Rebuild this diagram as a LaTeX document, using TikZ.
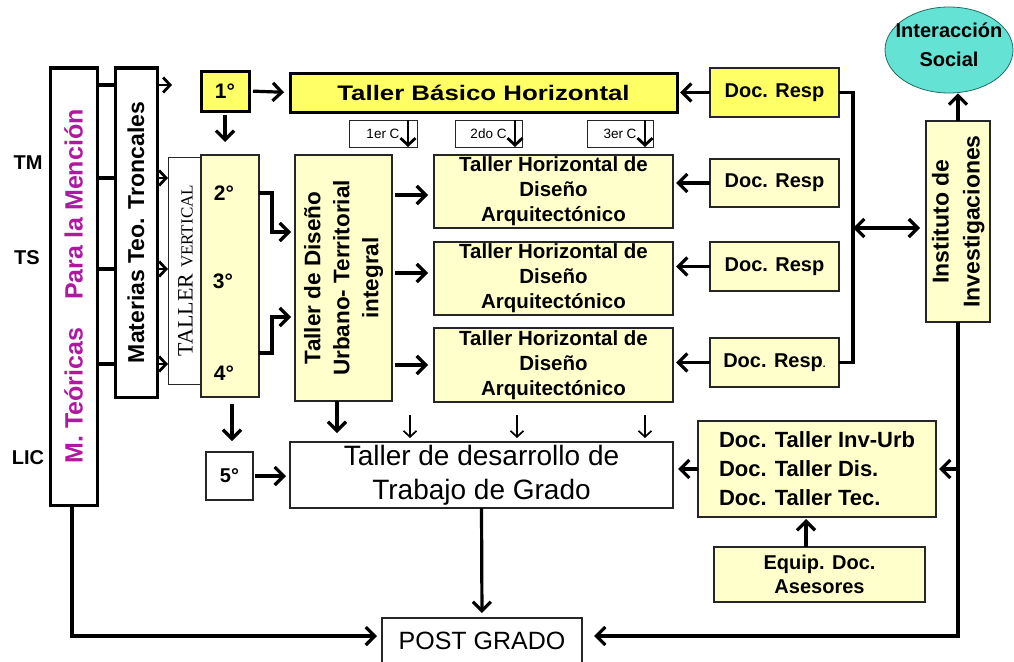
\documentclass[tikz,border=0pt]{standalone}
\usepackage{fontspec}
\setmainfont{Liberation Sans}
\newfontfamily\seriff{Liberation Serif}
\newfontfamily\widesans[FakeStretch=1.23]{Liberation Sans}
\usetikzlibrary{arrows.meta,shapes.geometric,calc}
\definecolor{ystrong}{RGB}{255,255,102}
\definecolor{ylight}{RGB}{255,255,204}
\definecolor{turq}{RGB}{100,226,212}
\definecolor{turqd}{RGB}{30,110,100}
\definecolor{magen}{RGB}{176,24,160}
\newcommand{\fsz}[2]{\fontsize{#1}{#2}\selectfont}
\tikzset{
  bx/.style 2 args={rectangle, draw=black!85, line width=1.1pt, inner sep=0pt, outer sep=0pt,
     minimum width=#1pt, minimum height=#2pt},
  thickb/.style={draw=black, line width=3pt},
  ln/.style={line width=3.2pt},
  arr/.style={line width=3.2pt, -{Straight Barb[length=9pt,width=18pt]}},
  arrs/.style={line width=2.8pt, -{Straight Barb[length=7pt,width=15pt]}},
  arrm/.style={line width=2.8pt, -{Straight Barb[length=7pt,width=15pt]}},
  arrt/.style={line width=1.7pt, -{Straight Barb[length=6pt,width=13pt]}},
  darr/.style={line width=3.2pt, {Straight Barb[length=9pt,width=18pt]}-{Straight Barb[length=9pt,width=18pt]}},
  lbl/.style={inner sep=0pt, font=\fsz{20}{20}\bfseries},
}
\begin{document}
\begin{tikzpicture}[x=1pt,y=-1pt]
\useasboundingbox (0,0) rectangle (1014,661);
\clip (0,0) rectangle (1014,661);

% left labels
\node[lbl] (tm) at (28,163) {TM};
\node[lbl] (ts) at (27,258) {TS};
\node[lbl] (lic) at (28,458) {LIC};

% left columns
\node[bx={47}{437}, thickb, fill=white] (mt) at (73.5,286.5)
  {\rotatebox{90}{\fsz{25}{25}\bfseries\color{magen}M. Teóricas\hspace{0.85em} Para la Mención}};
\node[bx={42}{329}, thickb, fill=white] (mat) at (136,232.5)
  {\rotatebox{90}{\fsz{23}{23}\bfseries Materias Teo. Troncales}};
\node[bx={35}{227}, line width=0.8pt, fill=white] (tv) at (185.5,270.5)
  {\rotatebox{90}{\seriff\fsz{22}{22}TALLER \fsz{17}{17}VERTICAL}};
\node[bx={58}{242}, fill=ylight] (col) at (230,276) {};
\node[lbl, font=\fsz{21}{21}\bfseries] (n2) at (224,193) {2°};
\node[lbl, font=\fsz{21}{21}\bfseries] (n3) at (223,281) {3°};
\node[lbl, font=\fsz{21}{21}\bfseries] (n4) at (224,373) {4°};
\node[bx={48}{40}, thickb, fill=ystrong, font=\fsz{21}{21}\bfseries] (one) at (225,91) {1°};
\node[bx={47}{48}, fill=white, font=\fsz{20}{20}\bfseries] (five) at (229.5,476) {5°};

% top
\node[bx={387}{39}, thickb, fill=ystrong] (tbh) at (483.5,92.5)
  {\widesans\fsz{21}{21}\bfseries Taller Básico Horizontal};
\node[bx={68}{27}, line width=0.6pt, fill=white, font=\fsz{13.5}{14}] (c1) at (383,133.5) {1er C\hspace{16pt}};
\node[bx={67}{27}, line width=0.6pt, fill=white, font=\fsz{13.5}{14}] (c2) at (488.5,133.5) {2do C\hspace{16pt}};
\node[bx={66}{27}, line width=0.6pt, fill=white, font=\fsz{13.5}{14}] (c3) at (620,133.5) {3er C\hspace{16pt}};

% Taller de Diseño
\node[bx={97}{246}, fill=ylight] (tdu) at (343.5,278)
  {\rotatebox{90}{\fsz{22.5}{29}\bfseries\begin{tabular}{@{}c@{}}Taller de Diseño\\Urbano- Territorial\\integral\end{tabular}}};

% Taller Horizontal boxes
\node[bx={239}{73}, fill=ylight, align=center, font=\fsz{20.5}{25}\bfseries] (th1) at (553.5,191.5)
  {Taller Horizontal de\\Diseño\\Arquitectónico};
\node[bx={239}{73}, fill=ylight, align=center, font=\fsz{20.5}{25}\bfseries] (th2) at (553.5,278.5)
  {Taller Horizontal de\\Diseño\\Arquitectónico};
\node[bx={239}{74}, fill=ylight, align=center, font=\fsz{20.5}{25}\bfseries] (th3) at (553.5,365)
  {Taller Horizontal de\\Diseño\\Arquitectónico};

% Doc Resp
\node[bx={129}{49}, fill=ystrong, font=\fsz{20}{20}\bfseries] (dr1) at (774.5,92.5) {Doc. Resp};
\node[bx={129}{48}, fill=ylight, font=\fsz{20}{20}\bfseries] (dr2) at (774.5,183) {Doc. Resp};
\node[bx={129}{49}, fill=ylight, font=\fsz{20}{20}\bfseries] (dr3) at (774.5,266.5) {Doc. Resp};
\node[bx={129}{49}, fill=ylight, font=\fsz{20}{20}\bfseries] (dr4) at (774.5,362.5) {Doc. Resp{\fsz{10}{10}.}};

% Instituto & ellipse
\node[bx={64}{201}, fill=ylight] (inst) at (958,221.5)
  {\rotatebox{90}{\fsz{23}{31}\bfseries\begin{tabular}{@{}c@{}}Instituto de\\Investigaciones\end{tabular}}};
\node[ellipse, draw=turqd, line width=0.8pt, fill=turq, minimum width=128pt, minimum height=86pt, inner sep=0pt] (ell) at (949,50) {};
\node[align=center, inner sep=0pt, font=\fsz{20}{29}\bfseries] (ellt) at (949,45) {Interacción\\Social};

% bottom
\node[bx={383}{66}, fill=white, align=center, font=\fsz{28}{34}] (des) at (481.5,475)
  {Taller de desarrollo de\\Trabajo de Grado};
\node[bx={238}{96}, fill=ylight, align=left, font=\fsz{22}{29}\bfseries] (dt) at (817,469)
  {Doc. Taller Inv-Urb\\Doc. Taller Dis.\\Doc. Taller Tec.};
\node[bx={211}{55}, fill=ylight, align=center, font=\fsz{20}{24}\bfseries] (eq) at (819.5,574.5)
  {Equip. Doc.\\Asesores};
\node[bx={200}{46}, fill=white, font=\fsz{25}{25}] (post) at (482,641) {POST GRADO};

% ---- connectors ----
\foreach \y in {85,178,269,364} \draw[ln] (mt.east |- 0,\y) -- (mat.west |- 0,\y);
\coordinate (free1) at (172,85);
\draw[arrs] (mat.east |- free1) -- (free1);
\foreach \y in {178,269,364} \draw[arrs] (mat.east |- 0,\y) -- (tv.west |- 0,\y);

\draw[arr, shorten <=4pt, shorten >=6pt] (one.east) -- (tbh.west);
\draw[arr, shorten <=4pt] (one.south) -- (one.south |- 0,142);

\coordinate (k1) at (272,232);
\coordinate (k2) at (272,317);
\draw[arr, shorten >=4pt] (col.east |- 0,193) -| (k1) -- (k1 -| tdu.west);
\draw[arr, shorten >=4pt] (col.east |- 0,353) -| (k2) -- (k2 -| tdu.west);

\draw[arr, shorten <=3pt, shorten >=6pt] (tdu.east |- 0,195) -- (th1.west |- 0,195);
\draw[arr, shorten <=3pt, shorten >=6pt] (tdu.east |- 0,273) -- (th2.west |- 0,273);
\draw[arr, shorten <=3pt, shorten >=6pt] (tdu.east |- 0,365) -- (th3.west |- 0,365);

\draw[arrm] (c1.north -| 408,0) -- (c1.south -| 408,0);
\draw[arrm] (c2.north -| 515,0) -- (c2.south -| 515,0);
\draw[arrm] (c3.north -| 645,0) -- (c3.south -| 645,0);

\draw[arr, shorten >=3pt] (dr1.west) -- (tbh.east);
\draw[arr, shorten >=3pt] (dr2.west) -- (dr2.west -| th1.east);
\draw[arr, shorten >=3pt] (dr3.west) -- (dr3.west -| th2.east);
\draw[arr, shorten >=3pt] (dr4.west) -- (dr4.west -| th3.east);

\coordinate (brk) at (853,228);
\draw[ln] (dr1.east) -| (brk) |- (dr4.east);
\draw[darr, shorten >=6pt] (brk) -- (brk -| inst.west);

\draw[arr] (inst.north) -- (inst.north |- ell.south);

\coordinate (cR) at (958,636);
\draw[arr, shorten >=12pt] (inst.south) -- (cR) -- (cR -| post.east);
\draw[arr, shorten >=3pt] (inst.south |- dt.east) -- (dt.east);
\coordinate (cL) at (72,636);
\draw[arr, shorten >=5pt] (mt.south -| cL) -- (cL) -- (cL -| post.west);

\draw[arr, shorten >=5pt] (dt.west) -- (dt.west -| des.east);
\draw[arr, shorten >=2pt] (eq.north -| 806,0) -- (dt.south -| 806,0);
\draw[arr, shorten >=5pt] (des.south) -- (post.north);
\draw[arr, shorten <=2pt, shorten >=4pt] (five.east) -- (five.east -| des.west);
\draw[arr, shorten <=7pt, shorten >=11pt] (col.south -| 232,0) -- (five.north -| 232,0);
\draw[arr, shorten >=9pt] (tdu.south -| 337,0) -- (des.north -| 337,0);
\foreach \x in {410,517,645} \draw[arrt, shorten >=4pt] (\x,415) -- (des.north -| \x,0);
\end{tikzpicture}
\end{document}
